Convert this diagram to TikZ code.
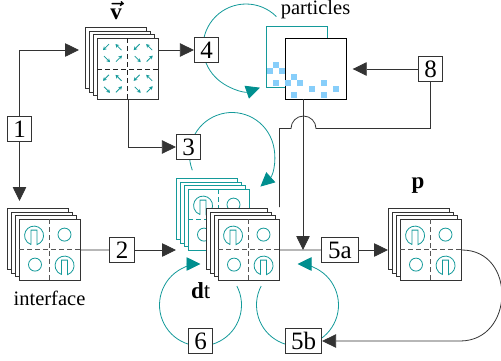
\documentclass[tikz,border=0pt]{standalone}
\usepackage{amsmath}
\usepackage{fontspec}
\setmainfont{Liberation Serif}
\usetikzlibrary{arrows.meta}
\definecolor{flowteal}{HTML}{149A9A}
\definecolor{tipteal}{HTML}{008F8F}
\definecolor{crossgray}{HTML}{555555}
\definecolor{dotblue}{HTML}{87CEFA}
\tikzset{
  sheet/.style={draw, fill=white, minimum size=61pt, inner sep=0pt, anchor=north west, line width=0.8pt},
  stepbox/.style={draw=black!80, fill=white, minimum width=24.5pt, minimum height=24.5pt, inner sep=0pt, line width=0.7pt, font=\fontsize{25}{28}\selectfont},
  wide/.style={minimum width=36.5pt},
  flowline/.style={black!80, line width=0.8pt, ->},
  loopline/.style={flowteal, line width=0.8pt, -{Triangle[length=14pt,width=13.5pt,color=tipteal]}},
  textlabel/.style={inner sep=0pt},
  boldlabel/.style={inner sep=0pt, font=\fontsize{23}{26}\selectfont},
  slotdisc/.pic={\draw[flowteal, line width=0.8pt] (-3,9) -- (-3,-5.5) -- (3,-5.5) -- (3,9) arc (72:-252:9.5);},
  plaindisc/.pic={\draw[flowteal, line width=0.8pt] (0,0) circle (6.5);},
  slotpanel/.pic={
    \draw[line width=1pt, dash pattern=on 5pt off 3pt, pic actions] (30.5,0) -- (30.5,61) (0,30.5) -- (61,30.5);
    \pic at (15,16.5) {slotdisc};
    \pic at (45.5,46.5) {slotdisc};
    \pic at (45.5,15.5) {plaindisc};
    \pic at (16,45.5) {plaindisc};
  },
}
% four sheets, the last one is the front
\newcommand{\sheetstack}[4]{
  \foreach \i in {0,1,2,3}
    \node[sheet, draw=#4] (#1\i) at (#2+\i*4, #3+\i*3.7) {};
}
\begin{document}
\begin{tikzpicture}[x=1pt, y=-1pt, >={Triangle[length=14pt,width=13.5pt]}, font=\fontsize{20.5}{24}\selectfont]
  \useasboundingbox (0,0) rectangle (501,360);

  % teal loops go under the boxes
  \coordinate (c4) at (246,47);
  \coordinate (c3) at (232,155);
  \coordinate (c6) at (200.5,305);
  \coordinate (c5b) at (297.5,305);
  \draw[loopline] (c4) ++(-45:43) arc (-45:-289:43);
  \draw[loopline] (c3) ++(159:42.5) arc (159:408:42.5);
  \draw[loopline] (c6) ++(-27.5:41) arc (-27.5:270:41);
  \draw[loopline] (c5b) ++(207.5:41) arc (207.5:-90:41);

  % particles
  \node[sheet, draw=flowteal, line width=0.7pt] (partback) at (266,26) {};
  \foreach \px/\py in {276.3/65.3, 270.3/71.3, 282.3/71.3, 276.3/83.3}
    \fill[dotblue] (\px-3,\py-3) rectangle (\px+3,\py+3);
  \node[sheet, draw=black] (partfront) at (285,38) {};
  \foreach \px/\py in {288.3/83.3, 294.3/77.3, 300.3/83.3, 294.3/95.3, 312.3/89.3, 324.3/83.3, 324.3/95.3, 336.3/89.3}
    \fill[dotblue] (\px-3,\py-3) rectangle (\px+3,\py+3);
  \node[textlabel] (partlabel) at (315.5,9.5) {particles};

  % velocity field
  \sheetstack{vel}{85}{27}{black!80}
  \draw[line width=1pt, crossgray!40!black, dash pattern=on 5pt off 3pt] (vel3.north) -- (vel3.south) (vel3.west) -- (vel3.east);
  \foreach \qx in {0,30.7}
    \foreach \qy in {0,30.7} {
      \begin{scope}[shift={(vel3.north west)}, shift={(\qx,\qy)}, flowteal, line width=0.8pt, -{Stealth[length=3.5pt,width=4pt]}]
        \draw (12,6) -- (6,12);
        \draw (24.5,12) -- (18.5,6);
        \draw (7,18) -- (13,24);
        \draw (19,23.5) -- (25,17.5);
      \end{scope}
    }
  \node[boldlabel] (vellabel) at (116,11) {{\boldmath$\vec{\hbox{\textbf{v}}}$}};

  % interface, dt and p
  \sheetstack{iface}{7}{208}{black!80}
  \pic[draw=crossgray] at (iface3.north west) {slotpanel};
  \node[textlabel] (ifacelabel) at (49.5,298) {interface};

  \sheetstack{dtold}{176}{178}{flowteal}
  \pic[draw=flowteal] at (dtold3.north west) {slotpanel};
  \sheetstack{dtnew}{206}{208}{black!80}
  \pic[draw=crossgray] at (dtnew3.north west) {slotpanel};
  \node[boldlabel] (dtlabel) at (200.7,291) {\textbf{d}t};

  \sheetstack{pres}{388}{208}{black!80}
  \pic[draw=crossgray] at (pres3.north west) {slotpanel};
  \node[boldlabel] (preslabel) at (418,186) {\textbf{p}};

  % step boxes
  \node[stepbox] (box1) at (19.5,129) {1};
  \node[stepbox] (box2) at (122,250) {2};
  \node[stepbox] (box3) at (188.5,147) {3};
  \node[stepbox] (box4) at (206.5,50) {4};
  \node[stepbox, wide] (box5a) at (340,250) {5a};
  \node[stepbox, wide] (box5b) at (303.5,341) {5b};
  \node[stepbox] (box6) at (200.5,341) {6};
  \node[stepbox] (box8) at (430.5,69) {8};

  % free ends
  \coordinate (velin) at (79,50);
  \coordinate (ifacein) at (19.5,201);
  \coordinate (dtin) at (176,250);
  \coordinate (partin) at (352.7,69);
  \coordinate (partout) at (303,99);
  \coordinate (dtdown) at (303,250);
  \coordinate (velout) at (128,99);
  \coordinate (bumpright) at (316,128.5);
  \coordinate (dtup) at (279.5,207);
  \coordinate (bendend) at (460,341);

  % connectors
  \draw[flowline] (box1.north) |- (velin);
  \draw[flowline] (box1.south) -- (ifacein);
  \draw[flowline] (vel3.east |- box4.west) -- (box4.west);
  \draw[flowline] (velout) |- (box3.west);
  \draw[black!80, line width=0.8pt] (iface3.east) -- (box2.west);
  \draw[flowline] (box2.east) -- (dtin);
  \draw[flowline] (box8.west) -- (partin);
  \draw[flowline] (partout) -- (dtdown);
  \draw[black!80, line width=0.8pt] (dtnew3.east) -- (box5a.west);
  \draw[flowline] (box5a.east) -- (pres0.west |- box5a.east);
  \draw[flowline] (pres3.east) to[out=0, in=0, distance=54.7pt] (bendend) -- (box5b.east);
  \draw[black!80, line width=0.8pt] (box8.south) |- (bumpright) arc (0:-180:12.5) -| (dtup);
\end{tikzpicture}
\end{document}
